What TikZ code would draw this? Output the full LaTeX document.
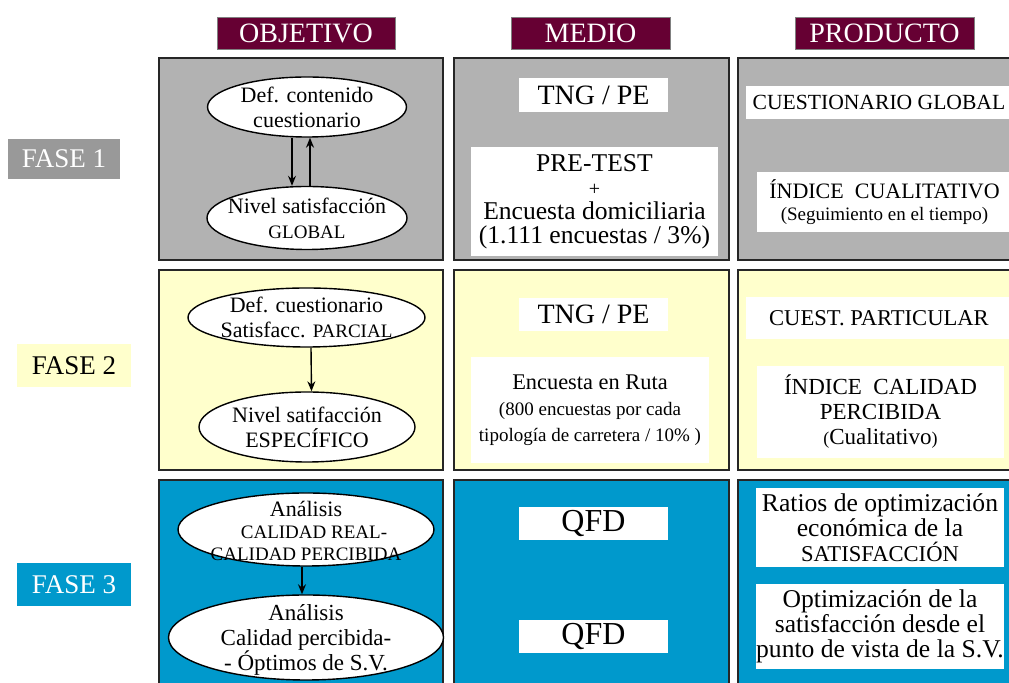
\documentclass[tikz,border=0pt]{standalone}
\usepackage{fontspec}
\setmainfont{Liberation Serif}
\usetikzlibrary{shapes.geometric,arrows.meta}
\definecolor{vino}{HTML}{660033}
\definecolor{gris}{HTML}{B2B2B2}
\definecolor{grisf}{HTML}{999999}
\definecolor{crema}{HTML}{FFFFCC}
\definecolor{azul}{HTML}{0099CC}
\newcommand{\fs}[2]{\fontsize{#1}{#2}\selectfont}
\begin{document}
\begin{tikzpicture}[x=0.5pt,y=-0.5pt,
  panel/.style={draw=black!85,line width=1pt},
  head/.style={draw=gray,fill=vino,text=white,inner sep=0pt,font=\fs{14}{16}},
  fase/.style={inner sep=0pt,minimum width=57pt,minimum height=21.5pt,font=\fs{13.5}{15}},
  elip/.style={ellipse,draw=black,line width=0.7pt,fill=white,inner sep=0pt},
  txt/.style={align=center,inner sep=0pt,font=\fs{11}{12.5}},
  caja/.style={fill=white,inner sep=0pt,align=center},
  arr/.style={-{Stealth[length=5pt,width=4pt]},line width=0.7pt}]
\useasboundingbox (0,0) rectangle (1009,683);
\clip (0,0) rectangle (1009,683);
% cabeceras
\node[head,minimum width=89pt,minimum height=16pt] (obj) at (306,33) {OBJETIVO};
\node[head,minimum width=79.5pt,minimum height=16pt] (med) at (590.5,33) {MEDIO};
\node[head,minimum width=89.5pt,minimum height=16pt] (prod) at (884.5,33) {PRODUCTO};
% fases
\node[fase,fill=grisf,text=white,minimum width=56pt,minimum height=20pt] (fase1) at (64,159) {FASE 1};
\node[fase,fill=crema] (fase2) at (74,365.5) {FASE 2};
\node[fase,fill=azul,text=white] (fase3) at (74,584.5) {FASE 3};
% paneles
\draw[panel,fill=gris] (159,58) rectangle (443,260);
\draw[panel,fill=gris] (454,58) rectangle (729,260);
\draw[panel,fill=gris] (738,58) rectangle (1030,260);
\draw[panel,fill=crema] (159,270) rectangle (443,470);
\draw[panel,fill=crema] (454,270) rectangle (729,470);
\draw[panel,fill=crema] (738,270) rectangle (1030,470);
\draw[panel,fill=azul] (159,480) rectangle (443,700);
\draw[panel,fill=azul] (454,480) rectangle (729,700);
\draw[panel,fill=azul] (738,480) rectangle (1030,700);
% objetivo
\node[elip,minimum width=99.5pt,minimum height=30pt] (e11) at (307,107) {};
\node[txt] (t11) at (e11) {Def. contenido\\cuestionario};
\node[elip,minimum width=100pt,minimum height=31.5pt] (e12) at (307,218) {};
\node[txt] (t12) at (e12) {Nivel satisfacción\\{\fs{9.5}{11}GLOBAL}};
\node[elip,minimum width=118.5pt,minimum height=29.5pt] (e21) at (306.5,317.5) {};
\node[txt] (t21) at (e21) {Def. cuestionario\\Satisfacc. {\fs{9.5}{11}PARCIAL}};
\node[elip,minimum width=108pt,minimum height=35pt] (e22) at (307,427) {};
\node[txt] (t22) at (e22) {Nivel satifacción\\ESPECÍFICO};
\node[elip,minimum width=128pt,minimum height=36.5pt] (e31) at (306,529.5) {};
\node[txt,font=\fs{9.5}{11}] (t31) at ([yshift=-0.5pt]e31) {{\fs{11}{11}Análisis}\\\hspace*{8pt}CALIDAD REAL-\\CALIDAD PERCIBIDA};
\node[elip,minimum width=137.5pt,minimum height=42.5pt] (e32) at (306,637.5) {};
\node[txt,font=\fs{11.5}{12.5}] (t32) at ([yshift=-1pt]e32) {Análisis\\Calidad percibida-\\- Óptimos de S.V.};
\draw[arr] ([xshift=-7.5pt]e11.south) -- ([xshift=-7.5pt]e12.north);
\draw[arr] ([xshift=1.5pt]e12.north) -- ([xshift=1.5pt]e11.south);
\draw[arr] ([xshift=2.25pt]e21.south) -- ([xshift=2.25pt]e22.north);
\draw[arr] ([xshift=-2pt]e31.south) -- ([xshift=-2pt]e32.north);
% medio
\node[caja,minimum width=74.5pt,minimum height=17pt,font=\fs{14}{15}] (m11) at (593.5,95) {TNG / PE};
\node[caja,minimum width=123.5pt,minimum height=54.5pt,font=\fs{12.8}{12}] (m12) at (594.5,201.5) {PRE-TEST\\{\fs{10}{9}+}\\Encuesta domiciliaria\\(1.111 encuestas / 3\%)};
\node[caja,minimum width=74.5pt,minimum height=16.5pt,font=\fs{14}{15}] (m21) at (593.5,314.5) {TNG / PE};
\node[caja,minimum width=119pt,minimum height=53pt,font=\fs{9.5}{13}] (m22) at (590,410) {{\fs{11.2}{13}Encuesta en Ruta}\\(800 encuestas por cada\\tipología de carretera / 10\% )};
\node[caja,minimum width=74.5pt,minimum height=16.5pt,font=\fs{16}{16}] (m31) at (593.5,523.5) {QFD};
\node[caja,minimum width=74.5pt,minimum height=16.5pt,font=\fs{16}{16}] (m32) at (593.5,636.5) {QFD};
% producto
\node[caja,minimum width=133pt,minimum height=16.5pt,font=\fs{10.8}{12}] (p11) at (879,102.5) {CUESTIONARIO GLOBAL};
\node[caja,minimum width=127.5pt,minimum height=30pt,font=\fs{9.5}{11}] (p12) at (884.5,202) {{\fs{11}{13}ÍNDICE~~CUALITATIVO}\\(Seguimiento en el tiempo)};
\node[caja,minimum width=133pt,minimum height=21pt,font=\fs{11.3}{12}] (p21) at (879,318) {CUEST. PARTICULAR};
\node[caja,minimum width=123.5pt,minimum height=46pt,font=\fs{11.5}{12.5}] (p22) at (880.5,412) {ÍNDICE~~CALIDAD\\PERCIBIDA\\{\fs{9}{12.5}(}Cualitativo{\fs{9}{12.5})}};
\node[caja,minimum width=124pt,minimum height=39.5pt,font=\fs{12.8}{12.5}] (p31) at (880,527.5) {Ratios de optimización\\económica de la\\{\fs{11.3}{12.5}SATISFACCIÓN}};
\node[caja,minimum width=124pt,minimum height=42.5pt,font=\fs{12.8}{12.5}] (p32) at (880,626.5) {Optimización de la\\satisfacción desde el\\punto de vista de la S.V.};
\end{tikzpicture}
\end{document}
